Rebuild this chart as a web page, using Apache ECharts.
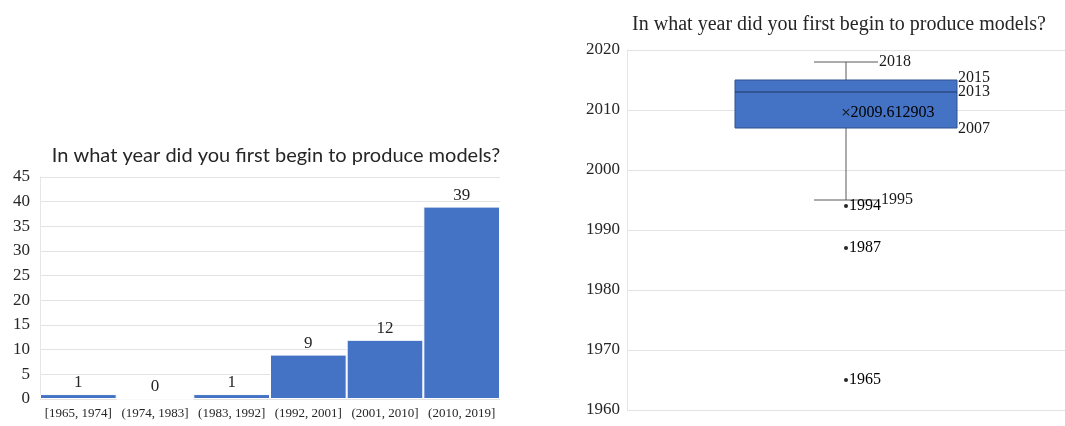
<!DOCTYPE html>
<html>
<head>
<meta charset="utf-8">
<script src="https://cdn.jsdelivr.net/npm/echarts@6/dist/echarts.min.js"></script>
<style>
  html, body { margin: 0; padding: 0; background: #fff; }
  #chart { width: 1065px; height: 426px; }
</style>
</head>
<body>
<div id="chart"></div>
<script>
// histogram: years of first model production
const binLabels = ['[1965, 1974]', '(1974, 1983]', '(1983, 1992]', '(1992, 2001]', '(2001, 2010]', '(2010, 2019]'];
const binCounts = [1, 0, 1, 9, 12, 39];

// box plot: min whisker, Q1, median, Q3, max whisker
const boxStats = [1995, 2007, 2013, 2015, 2018];
const meanValue = 2009.612903;
const outliers = [1994, 1987, 1965];

const titleText = 'In what year did you first begin to produce models?';
const blue = '#4472C4';
const serif = '"Liberation Serif", "Times New Roman", serif';

const chart = echarts.init(document.getElementById('chart'));

const renderBox = (params, api) => {
  const x = api.value(0);
  const lo = api.coord([x, api.value(1)]);
  const q1 = api.coord([x, api.value(2)]);
  const med = api.coord([x, api.value(3)]);
  const q3 = api.coord([x, api.value(4)]);
  const hi = api.coord([x, api.value(5)]);
  const cx = lo[0];
  const half = 111, cap = 32;
  const lineStyle = { stroke: '#595959', lineWidth: 1 };
  const txt = (val, px, py) => ({
    type: 'text',
    x: px, y: py,
    style: { text: String(val), fill: '#1a1a1a', font: '16px ' + serif, verticalAlign: 'middle', align: 'left' }
  });
  return {
    type: 'group',
    children: [
      { type: 'line', shape: { x1: cx, y1: hi[1], x2: cx, y2: q3[1] }, style: lineStyle },
      { type: 'line', shape: { x1: cx, y1: q1[1], x2: cx, y2: lo[1] }, style: lineStyle },
      { type: 'line', shape: { x1: cx - cap, y1: hi[1], x2: cx + cap, y2: hi[1] }, style: lineStyle },
      { type: 'line', shape: { x1: cx - cap, y1: lo[1], x2: cx + cap, y2: lo[1] }, style: lineStyle },
      { type: 'rect', shape: { x: cx - half, y: q3[1], width: half * 2, height: q1[1] - q3[1] },
        style: { fill: blue, stroke: '#2F528F', lineWidth: 1 } },
      { type: 'line', shape: { x1: cx - half, y1: med[1], x2: cx + half, y2: med[1] },
        style: { stroke: '#1F3864', lineWidth: 1 } },
      txt(api.value(5), cx + cap + 1, hi[1]),
      txt(api.value(4), cx + half + 1, q3[1] - 2),
      txt(api.value(3), cx + half + 1, med[1]),
      txt(api.value(2), cx + half + 1, q1[1] + 1),
      txt(api.value(1), cx + cap + 3, lo[1])
    ]
  };
};

const option = {
  animation: false,
  title: [
    {
      text: titleText,
      left: 271, top: 141, textAlign: 'center',
      textStyle: { fontFamily: 'Lato, "Open Sans", sans-serif', fontSize: 20, fontWeight: 'normal', color: '#262626' }
    },
    {
      text: titleText,
      left: 834, top: 10, textAlign: 'center',
      textStyle: { fontFamily: serif, fontSize: 20, fontWeight: 'normal', color: '#262626' }
    }
  ],
  grid: [
    { left: 40, right: 565, top: 177, bottom: 27 },
    { left: 627, right: 0, top: 50, bottom: 16 }
  ],
  xAxis: [
    {
      type: 'category', gridIndex: 0, data: binLabels,
      axisLine: { show: false }, axisTick: { show: false },
      axisLabel: { fontFamily: serif, fontSize: 13, color: '#262626', margin: 8, interval: 0 }
    },
    {
      type: 'category', gridIndex: 1, data: [''],
      axisLine: { show: false }, axisTick: { show: false }, axisLabel: { show: false }
    }
  ],
  yAxis: [
    {
      type: 'value', gridIndex: 0, min: 0, max: 45, interval: 5,
      axisLine: { show: true, lineStyle: { color: '#e6e6e6' } },
      axisLabel: { fontFamily: serif, fontSize: 17, color: '#262626', margin: 10 },
      splitLine: { lineStyle: { color: '#e3e3e3' } }
    },
    {
      type: 'value', gridIndex: 1, min: 1960, max: 2020, interval: 10,
      axisLine: { show: true, lineStyle: { color: '#e6e6e6' } },
      axisLabel: { fontFamily: serif, fontSize: 17, color: '#262626', margin: 7, formatter: v => String(v) },
      splitLine: { lineStyle: { color: '#e3e3e3' } }
    }
  ],
  series: [
    {
      type: 'bar', xAxisIndex: 0, yAxisIndex: 0,
      data: binCounts,
      barCategoryGap: '0%',
      itemStyle: { color: blue, borderColor: '#fff', borderWidth: 1 },
      label: { show: true, position: 'top', fontFamily: serif, fontSize: 17, color: '#262626', distance: 3 }
    },
    {
      type: 'custom', xAxisIndex: 1, yAxisIndex: 1,
      renderItem: renderBox,
      data: [[0].concat(boxStats)],
      z: 2
    },
    {
      type: 'scatter', xAxisIndex: 1, yAxisIndex: 1,
      data: outliers.map(v => [0, v]),
      symbol: 'circle', symbolSize: 4,
      itemStyle: { color: '#262626', opacity: 1 },
      label: {
        show: true, position: 'right', distance: 1,
        formatter: p => String(p.value[1]),
        fontFamily: serif, fontSize: 16, color: '#000'
      },
      emphasis: { disabled: true },
      z: 3
    },
    {
      type: 'scatter', xAxisIndex: 1, yAxisIndex: 1,
      data: [[0, meanValue]],
      symbol: 'path://M0,1L1,0L5,4L9,0L10,1L6,5L10,9L9,10L5,6L1,10L0,9L4,5Z',
      symbolSize: 7,
      itemStyle: { color: '#1a1a1a', opacity: 1 },
      label: {
        show: true, position: 'right', distance: 1,
        formatter: p => p.value[1].toFixed(6),
        fontFamily: serif, fontSize: 16, color: '#000'
      },
      emphasis: { disabled: true },
      z: 3
    }
  ]
};

chart.setOption(option);
</script>
</body>
</html>
